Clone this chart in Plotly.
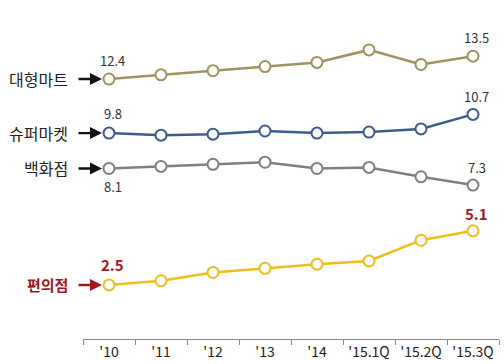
import plotly.graph_objects as go

categories = ["'10", "'11", "'12", "'13", "'14", "'15.1Q", "'15.2Q", "'15.3Q"]
series_names = ["대형마트", "슈퍼마켓", "백화점", "편의점"]
hypermarket = [12.4, 12.6, 12.8, 13.0, 13.2, 13.8, 13.1, 13.5]
supermarket = [9.8, 9.7, 9.75, 9.9, 9.8, 9.85, 10.0, 10.7]
department = [8.1, 8.2, 8.3, 8.4, 8.1, 8.15, 7.7, 7.3]
convenience = [2.5, 2.7, 3.1, 3.3, 3.5, 3.65, 4.65, 5.1]

values = [hypermarket, supermarket, department, convenience]
colors = ["#9c9462", "#3c5d8b", "#808080", "#f0bd1e"]
FONT = "Noto Sans CJK KR"
RED = "#a3171f"

fig = go.Figure()
for name, vals, col in zip(series_names, values, colors):
    fig.add_trace(go.Scatter(
        x=list(range(len(categories))), y=vals, mode="lines+markers", name=name,
        line=dict(color=col, width=2.5),
        marker=dict(size=11, color="white", line=dict(color=col, width=2)),
        showlegend=False, hoverinfo="skip", cliponaxis=False))

ann = []
label_info = [
    (0, "대형마트", "#222", False),
    (1, "슈퍼마켓", "#222", False),
    (2, "백화점", "#222", False),
    (3, "편의점", RED, True),
]
for i, txt, col, bold in label_info:
    v = values[i][0]
    ann.append(dict(x=-0.031, y=v, xref="paper", yref="y", text=f"<b>{txt}</b>" if bold else txt,
                    showarrow=False, xanchor="right", yanchor="middle",
                    font=dict(family=FONT, size=16 if not bold else 15, color=col)))
    ann.append(dict(x=0, y=v, xref="x", yref="y", text="", showarrow=True,
                    ax=-32, ay=0, arrowhead=2, arrowsize=1, arrowwidth=2.4,
                    arrowcolor="#111" if not bold else RED, standoff=7))

val_labels = [
    (0, 0, -19, False), (0, 7, -19, False),
    (1, 0, -20, False), (1, 7, -18, False),
    (2, 0, 18, False), (2, 7, -18, False),
    (3, 0, -20, True), (3, 7, -17, True),
]
for si, pi, dy, bold in val_labels:
    v = values[si][pi]
    ann.append(dict(x=pi + 0.07, y=v, xref="x", yref="y",
                    text=f"<b>{v}</b>" if bold else f"{v}",
                    showarrow=False, yshift=-dy,
                    xanchor="center", yanchor="middle",
                    font=dict(family=FONT, size=15 if bold else 13,
                              color=RED if bold else "#333")))

fig.update_layout(
    width=504, height=364,
    margin=dict(l=83, r=5, t=0, b=25),
    paper_bgcolor="white", plot_bgcolor="white",
    annotations=ann,
    xaxis=dict(range=[-0.5, 7.5], tickmode="array",
               tickvals=list(range(len(categories))), ticktext=categories,
               showgrid=False, zeroline=False, showline=True, linecolor="#888",
               linewidth=1, ticks="", tickfont=dict(family=FONT, size=14, color="#222")),
    yaxis=dict(range=[-0.1, 16.2], visible=False),
)
fig.update_xaxes(minor=dict(tickvals=[i - 0.5 for i in range(len(categories) + 1)],
                            ticks="outside", ticklen=5, tickcolor="#888", tickwidth=1))
fig.write_html("out.html", config={"displayModeBar": False},
               post_script="document.body.style.margin='0';")
